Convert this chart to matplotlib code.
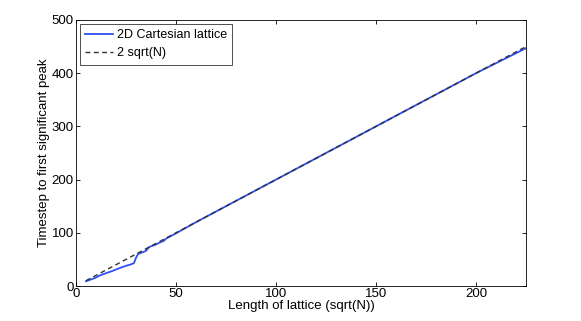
import matplotlib
matplotlib.use("Agg")
import matplotlib.pyplot as plt
import numpy as np

plt.rcParams['font.family'] = ['Liberation Sans', 'DejaVu Sans']

lattice_x = [5, 8, 10, 12, 15, 18, 20, 22, 25, 27, 29, 30, 31, 33, 35, 36, 37, 40, 42, 44, 45, 50, 60, 80, 100, 125, 150, 175, 200, 225]
peak_y = [9, 13, 16, 20, 24, 28, 31, 34, 38, 40, 43, 53, 60, 63, 66, 71, 74, 78, 82, 85, 89, 99, 120, 160, 200, 250, 300, 350, 400, 447]
ref_x = [5, 225]
ref_y = [2 * v for v in ref_x]

xticks = [0, 50, 100, 150, 200]
yticks = [0, 100, 200, 300, 400, 500]

fs = 9.5
fig = plt.figure(figsize=(5.81, 3.21), dpi=100)
ax = fig.add_axes([0.1308, 0.1090, 0.7745, 0.8287])
ax.plot(lattice_x, peak_y, color='#2F4FF5', lw=1.3, label='2D Cartesian lattice')
ax.plot(ref_x, ref_y, color='#333333', lw=1.0, ls=(0, (3.5, 2.5)), label='2 sqrt(N)')
ax.set_xlim(0, 225)
ax.set_ylim(0, 500)
ax.set_xticks(xticks)
ax.set_yticks(yticks)
ax.tick_params(direction='in', top=True, right=True, labelsize=fs, length=3, width=0.6, pad=1.5)
for s in ax.spines.values():
    s.set_linewidth(0.6)
ax.set_xlabel('Length of lattice (sqrt(N))', fontsize=fs, labelpad=0)
ax.set_ylabel('Timestep to first significant peak', fontsize=fs, labelpad=1)
leg = ax.legend(loc='upper left', fontsize=9, fancybox=False, edgecolor='black',
                borderaxespad=0.3, handlelength=2.2, borderpad=0.45, labelspacing=0.45, handletextpad=0.3)
leg.get_frame().set_linewidth(0.6)
fig.savefig('out.png', dpi=100)
